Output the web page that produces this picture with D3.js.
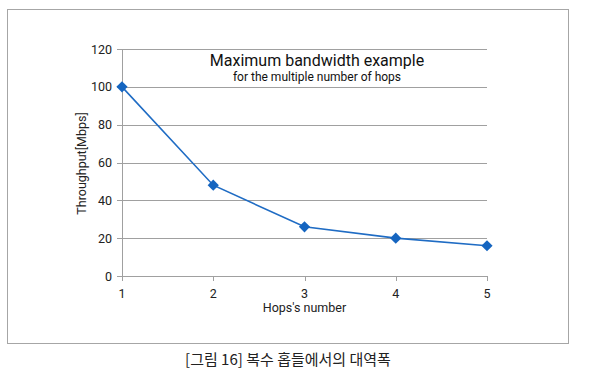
<!DOCTYPE html>
<html>
<head>
<meta charset="utf-8">
<script src="https://cdn.jsdelivr.net/npm/d3@7"></script>
<style>
  body { margin: 0; background: #fff; }
  svg { display: block; font-family: Roboto, "Liberation Sans", sans-serif; }
</style>
</head>
<body>
<script>
// chart data
var hops = [1, 2, 3, 4, 5];
var throughput = [100, 48, 26, 20, 16];
var yTicks = [0, 20, 40, 60, 80, 100, 120];

var title = "Maximum bandwidth example";
var subtitle = "for the multiple number of hops";
var xTitle = "Hops's number";
var yTitle = "Throughput[Mbps]";
var caption = "[그림 16] 복수 홉들에서의 대역폭";

var width = 605, height = 384;
var margin = {left: 122, right: 118, top: 49, bottom: 108};

var svg = d3.select("body")
    .append("svg")
    .attr("width", width)
    .attr("height", height);

// outer frame
svg.append("rect")
    .attr("x", 7.5).attr("y", 9.5)
    .attr("width", 561).attr("height", 334)
    .attr("fill", "none")
    .attr("stroke", "#a6a6a6")
    .attr("stroke-width", 1);

var x = d3.scaleLinear()
    .domain([1, 5])
    .range([margin.left, width - margin.right]);

var y = d3.scaleLinear()
    .domain([0, 120])
    .range([height - margin.bottom, margin.top]);

// gridlines
svg.append("g")
    .selectAll("line")
    .data(yTicks)
    .enter().append("line")
    .attr("x1", x(1) - 5)
    .attr("x2", x(5))
    .attr("y1", function (d) { return Math.round(y(d)) + 0.5; })
    .attr("y2", function (d) { return Math.round(y(d)) + 0.5; })
    .attr("stroke", "#a0a0a0")
    .attr("stroke-width", 1);

// y axis line
svg.append("line")
    .attr("x1", Math.round(x(1)) + 0.5).attr("x2", Math.round(x(1)) + 0.5)
    .attr("y1", y(120)).attr("y2", y(0) + 5)
    .attr("stroke", "#a0a0a0");

// x ticks
svg.append("g")
    .selectAll("line")
    .data(hops.slice(1))
    .enter().append("line")
    .attr("x1", function (d) { return Math.round(x(d)) + 0.5; })
    .attr("x2", function (d) { return Math.round(x(d)) + 0.5; })
    .attr("y1", y(0))
    .attr("y2", y(0) + 5)
    .attr("stroke", "#a0a0a0");

// y tick labels
svg.append("g")
    .selectAll("text")
    .data(yTicks)
    .enter().append("text")
    .attr("x", 112)
    .attr("y", function (d) { return y(d) + 4.5; })
    .attr("text-anchor", "end")
    .attr("font-size", 12.5)
    .attr("fill", "#222")
    .text(function (d) { return d; });

// x tick labels
svg.append("g")
    .selectAll("text")
    .data(hops)
    .enter().append("text")
    .attr("x", function (d) { return x(d); })
    .attr("y", y(0) + 22)
    .attr("text-anchor", "middle")
    .attr("font-size", 12.5)
    .attr("fill", "#222")
    .text(function (d) { return d; });

// axis titles
svg.append("text")
    .attr("x", (x(1) + x(5)) / 2)
    .attr("y", 312)
    .attr("text-anchor", "middle")
    .attr("font-size", 12.5)
    .attr("fill", "#222")
    .text(xTitle);

svg.append("text")
    .attr("transform", "translate(86," + ((y(0) + y(120)) / 2 + 1) + ") rotate(-90)")
    .attr("text-anchor", "middle")
    .attr("font-size", 12.5)
    .attr("fill", "#222")
    .text(yTitle);

// chart title
svg.append("text")
    .attr("x", 317)
    .attr("y", 66)
    .attr("text-anchor", "middle")
    .attr("font-size", 16)
    .attr("fill", "#111")
    .text(title);

svg.append("text")
    .attr("x", 317)
    .attr("y", 81)
    .attr("text-anchor", "middle")
    .attr("font-size", 12)
    .attr("fill", "#111")
    .text(subtitle);

// series line
var line = d3.line()
    .x(function (d, i) { return x(hops[i]); })
    .y(function (d) { return y(d); });

svg.append("path")
    .datum(throughput)
    .attr("d", line)
    .attr("fill", "none")
    .attr("stroke", "#1f6cc4")
    .attr("stroke-width", 1.6);

// diamond markers
svg.append("g")
    .selectAll("path")
    .data(throughput)
    .enter().append("path")
    .attr("d", d3.symbol().type(d3.symbolDiamond2).size(80))
    .attr("transform", function (d, i) { return "translate(" + x(hops[i]) + "," + y(d) + ")"; })
    .attr("fill", "#1565c0");

// caption
svg.append("text")
    .attr("x", 288)
    .attr("y", 365)
    .attr("text-anchor", "middle")
    .attr("font-family", "'Noto Sans CJK KR', sans-serif")
    .attr("font-size", 15)
    .attr("fill", "#222")
    .text(caption);
</script>
</body>
</html>
